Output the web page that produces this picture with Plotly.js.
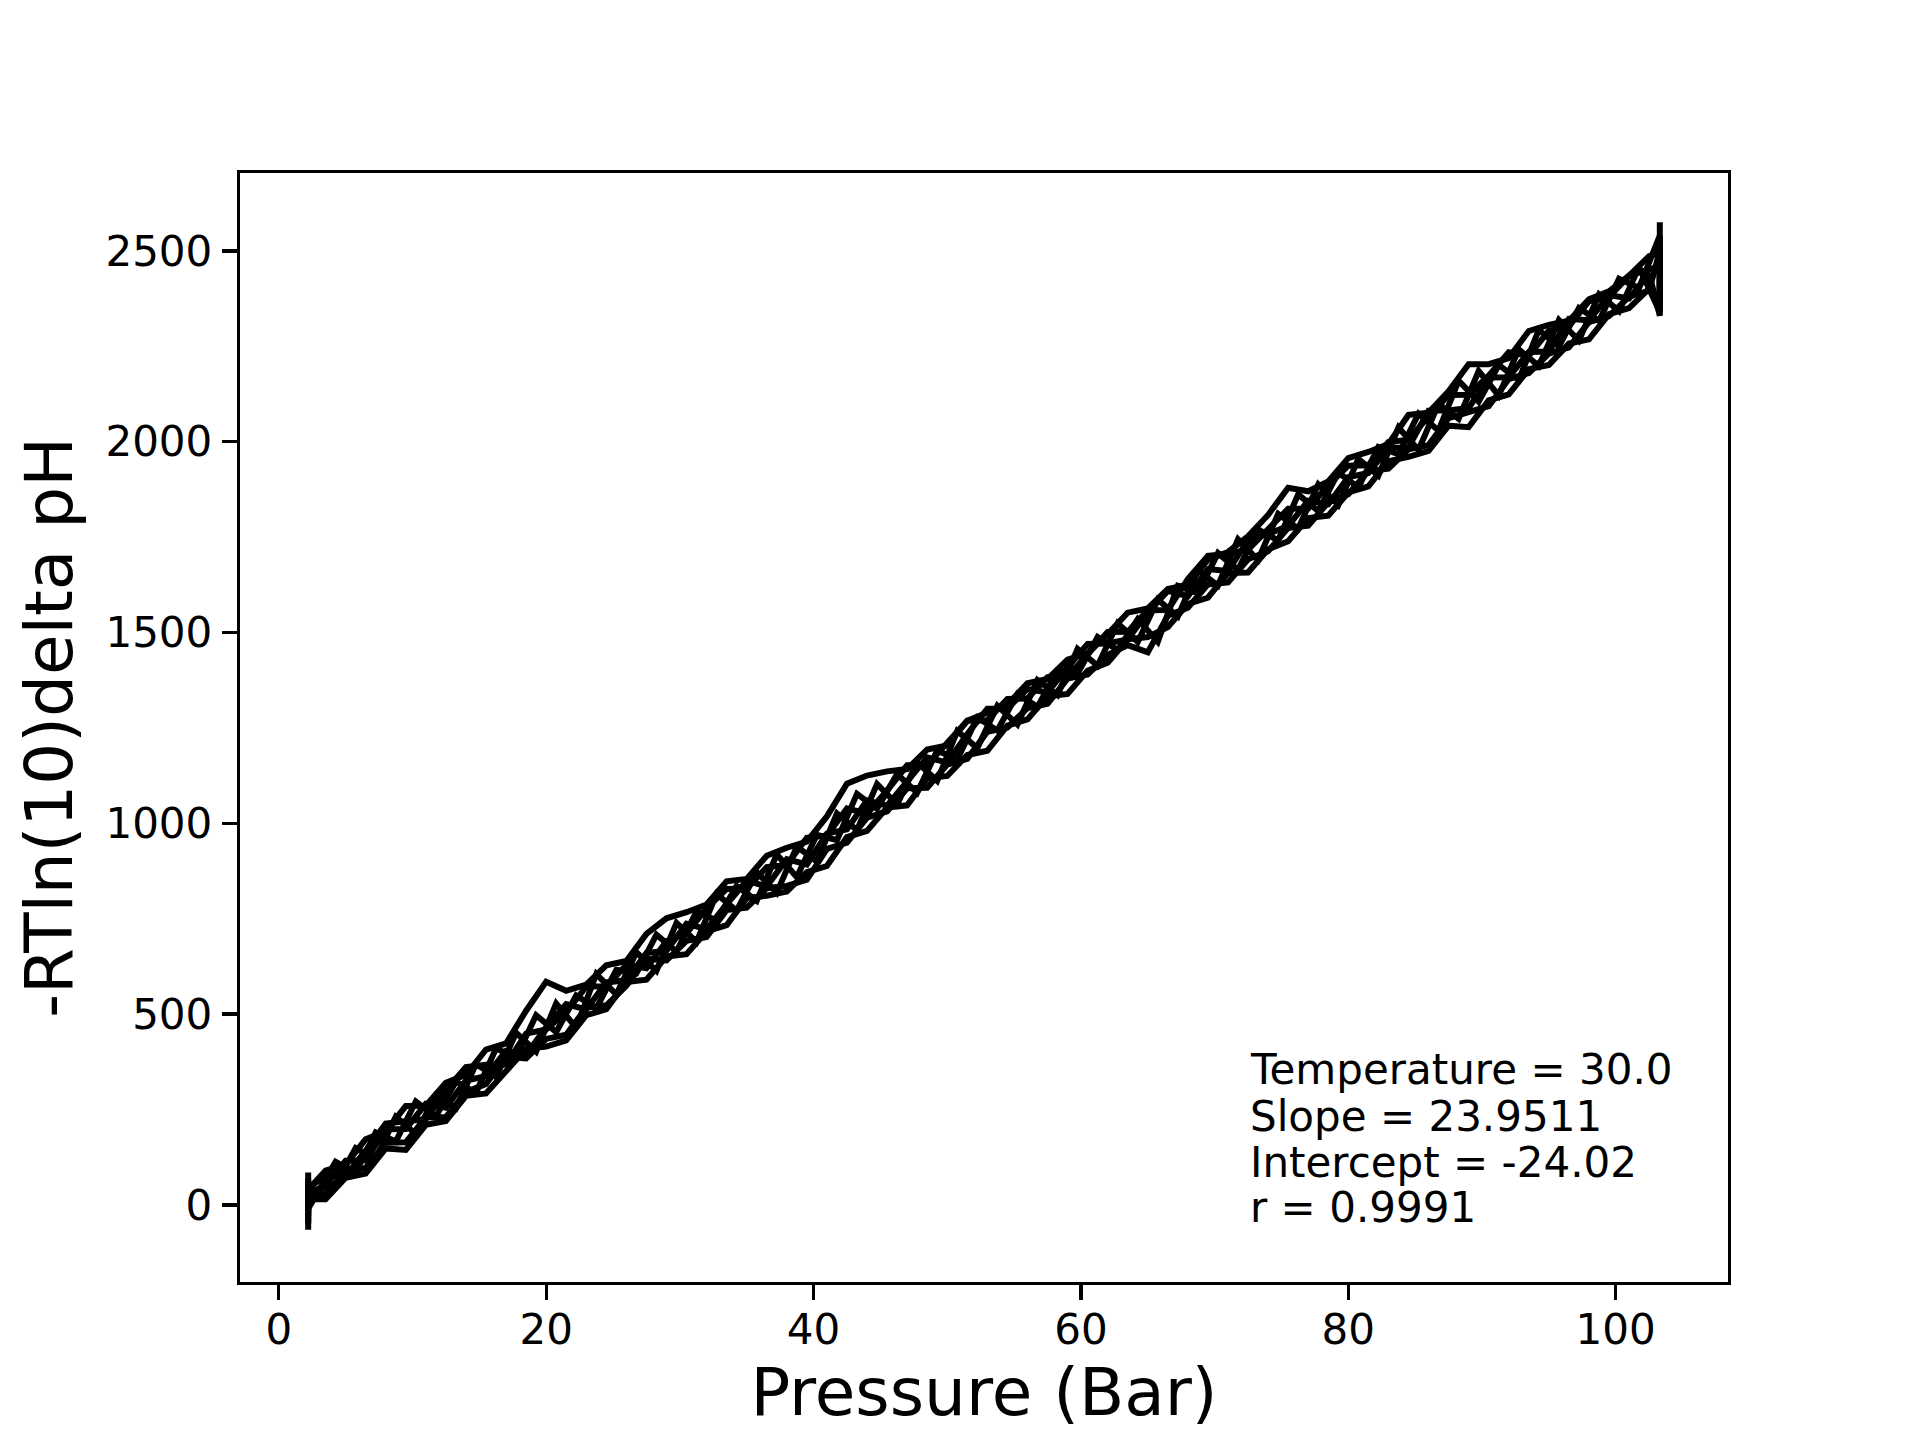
<!DOCTYPE html>
<html>
<head>
<meta charset="utf-8">
<script src="https://cdn.plot.ly/plotly-3.0.1.min.js"></script>
<style>
  body { margin: 0; background: #fff; }
  #chart { width: 1920px; height: 1440px; }
</style>
</head>
<body>
<div id="chart"></div>
<script>
// pressure readings (bar); repeats at both ends where the pressure holds
var pressure = [2.2, 2.2, 2.2, 3.5, 5.0, 6.5, 8.0, 9.5, 11.0, 12.5, 14.0, 15.5, 17.0, 18.5, 20.0,
  21.5, 23.0, 24.5, 26.0, 27.5, 29.0, 30.5, 32.0, 33.5, 35.0, 36.5, 38.0, 39.5, 41.0, 42.5,
  44.0, 45.5, 47.0, 48.5, 50.0, 51.5, 53.0, 54.5, 56.0, 57.5, 59.0, 60.5, 62.0, 63.5, 65.0,
  66.5, 68.0, 69.5, 71.0, 72.5, 74.0, 75.5, 77.0, 78.5, 80.0, 81.5, 83.0, 84.5, 86.0, 87.5,
  89.0, 90.5, 92.0, 93.5, 95.0, 96.5, 98.0, 99.5, 101.0, 102.5, 103.3, 103.3, 103.3];
// a second set of runs sampled in between
var pressureB = [2.2, 2.2, 4.25, 5.75, 7.25, 8.75, 10.25, 11.75, 13.25, 14.75, 16.25, 17.75,
  19.25, 20.75, 22.25, 23.75, 25.25, 26.75, 28.25, 29.75, 31.25, 32.75, 34.25, 35.75,
  37.25, 38.75, 40.25, 41.75, 43.25, 44.75, 46.25, 47.75, 49.25, 50.75, 52.25, 53.75,
  55.25, 56.75, 58.25, 59.75, 61.25, 62.75, 64.25, 65.75, 67.25, 68.75, 70.25, 71.75,
  73.25, 74.75, 76.25, 77.75, 79.25, 80.75, 82.25, 83.75, 85.25, 86.75, 88.25, 89.75,
  91.25, 92.75, 94.25, 95.75, 97.25, 98.75, 100.25, 101.75, 103.3, 103.3];

// -RT ln(10) delta pH for each run
var run1 = [85, -20, 40, 90, 106, 172, 193, 259, 260, 320, 341, 407, 423, 509, 585,
  561, 577, 628, 639, 710, 751, 767, 787, 848, 854, 915, 936, 952, 1018, 1104,
  1125, 1136, 1142, 1193, 1204, 1269, 1290, 1311, 1367, 1378, 1429, 1445, 1496, 1552, 1563,
  1614, 1625, 1691, 1711, 1752, 1808, 1879, 1870, 1896, 1957, 1973, 1994, 2070, 2076, 2132,
  2203, 2203, 2219, 2290, 2306, 2317, 2373, 2394, 2435, 2486, 2495, 2575, 2440];
var run2 = [-65, 10, 30, 50, 116, 117, 198, 199, 265, 255, 326, 337, 403, 394, 465,
  526, 512, 583, 589, 660, 666, 737, 722, 788, 849, 835, 906, 892, 973, 984,
  1060, 1046, 1112, 1173, 1159, 1234, 1300, 1301, 1352, 1343, 1409, 1470, 1471, 1482, 1553,
  1609, 1595, 1666, 1661, 1742, 1758, 1779, 1845, 1836, 1907, 1918, 1984, 1985, 2081, 2082,
  2088, 2168, 2169, 2235, 2236, 2322, 2318, 2384, 2375, 2441, 2330, 2420, 2390];
var run3 = [60, 0, 20, 30, 86, 97, 163, 164, 230, 230, 296, 317, 388, 384, 435,
  446, 517, 523, 574, 645, 641, 692, 702, 773, 779, 830, 836, 852, 933, 949,
  1015, 1031, 1092, 1093, 1154, 1169, 1240, 1251, 1302, 1313, 1379, 1390, 1441, 1467, 1448,
  1544, 1565, 1626, 1631, 1692, 1713, 1774, 1780, 1841, 1862, 1923, 1929, 1980, 1991, 2062,
  2078, 2093, 2164, 2180, 2231, 2247, 2313, 2329, 2380, 2396, 2500, 2400, 2460];
var run4 = [-30, 50, 15, 15, 71, 82, 148, 144, 210, 220, 286, 292, 353, 409, 415,
  431, 497, 513, 584, 590, 651, 657, 717, 733, 804, 810, 821, 872, 888, 964,
  980, 1041, 1047, 1118, 1124, 1179, 1190, 1256, 1272, 1333, 1339, 1400, 1421, 1482, 1488,
  1514, 1575, 1591, 1656, 1657, 1718, 1739, 1800, 1806, 1867, 1883, 1949, 1960, 1976, 2042,
  2038, 2108, 2124, 2190, 2201, 2257, 2268, 2334, 2350, 2401, 2350, 2440, 2410];
var run5 = [20, -45, 45, 75, 76, 142, 213, 219, 225, 300, 361, 367, 368, 449, 460,
  506, 572, 573, 629, 620, 691, 712, 777, 828, 829, 885, 891, 962, 968, 1039,
  1025, 1086, 1152, 1153, 1209, 1269, 1270, 1326, 1327, 1383, 1384, 1440, 1501, 1502, 1558,
  1559, 1640, 1701, 1706, 1717, 1768, 1824, 1825, 1886, 1937, 1938, 1999, 2005, 2066, 2122,
  2123, 2173, 2234, 2225, 2291, 2302, 2368, 2379, 2435, 2451, 2460, 2380, 2500];
var run6 = [70, -10, 113, 84, 190, 166, 271, 232, 323, 294, 410, 386,
  497, 453, 549, 515, 616, 607, 708, 664, 769, 745, 836, 797,
  918, 859, 970, 956, 1077, 1038, 1129, 1080, 1191, 1167, 1277, 1243,
  1339, 1305, 1401, 1392, 1488, 1454, 1535, 1476, 1622, 1603, 1708, 1664,
  1770, 1741, 1862, 1818, 1919, 1880, 1986, 1967, 2073, 2029, 2160, 2105,
  2201, 2162, 2293, 2249, 2350, 2316, 2427, 2403, 2540, 2360];
var run7 = [-50, 35, 53, 149, 120, 231, 186, 287, 253, 369, 335, 451,
  402, 528, 464, 605, 551, 662, 613, 739, 689, 815, 771, 872,
  818, 939, 900, 1026, 982, 1103, 1049, 1160, 1111, 1242, 1197, 1308,
  1259, 1375, 1336, 1457, 1413, 1524, 1475, 1586, 1542, 1663, 1623, 1744,
  1690, 1811, 1772, 1888, 1834, 1955, 1911, 2037, 1978, 2099, 2060, 2185,
  2121, 2242, 2198, 2319, 2265, 2386, 2342, 2458, 2340, 2480];

var runsA = [run1, run2, run3, run4, run5];
var runsB = [run6, run7];

var xTicks = [0, 20, 40, 60, 80, 100];
var yTicks = [0, 500, 1000, 1500, 2000, 2500];

var fitLines = ['Temperature = 30.0', 'Slope = 23.9511', 'Intercept = -24.02', 'r = 0.9991'];

var FONT = 'DejaVu Sans, Liberation Sans, sans-serif';

function runTrace(xs, ys) {
  return {
    x: xs,
    y: ys,
    type: 'scatter',
    mode: 'lines',
    line: {color: '#000000', width: 6},
    hoverinfo: 'skip'
  };
}

var traces = runsA.map(function (r) { return runTrace(pressure, r); })
  .concat(runsB.map(function (r) { return runTrace(pressureB, r); }));

// text block sits at the lower right, one annotation per line
var textX = 72.5;
var textY = [354, 231, 110, -8];
var annotations = fitLines.map(function (t, i) {
  return {
    text: t,
    x: textX, y: textY[i],
    xref: 'x', yref: 'y',
    xanchor: 'left', yanchor: 'middle',
    showarrow: false,
    font: {family: FONT, size: 42, color: '#000000'}
  };
});

var axisBase = {
  showline: true,
  linecolor: '#000000',
  linewidth: 3.3,
  mirror: true,
  ticks: 'outside',
  ticklen: 15,
  tickwidth: 3.3,
  tickcolor: '#000000',
  showgrid: false,
  zeroline: false,
  automargin: false,
  tickfont: {family: FONT, size: 42, color: '#000000'}
};

var layout = {
  width: 1920,
  height: 1440,
  margin: {l: 240, r: 192, t: 173, b: 158, pad: 0},
  paper_bgcolor: '#ffffff',
  plot_bgcolor: '#ffffff',
  showlegend: false,
  xaxis: Object.assign({}, axisBase, {
    range: [-2.9, 108.4],
    tickvals: xTicks,
    ticklabelstandoff: -7,
    title: {text: 'Pressure (Bar)', font: {family: FONT, size: 66, color: '#000000'}, standoff: 14}
  }),
  yaxis: Object.assign({}, axisBase, {
    range: [-202, 2704],
    tickvals: yTicks,
    tickformat: 'd',
    ticklabelstandoff: 1,
    title: {text: '-RTln(10)delta pH', font: {family: FONT, size: 66, color: '#000000'}, standoff: 12}
  }),
  annotations: annotations
};

Plotly.newPlot('chart', traces, layout, {displayModeBar: false, staticPlot: true});
</script>
</body>
</html>
